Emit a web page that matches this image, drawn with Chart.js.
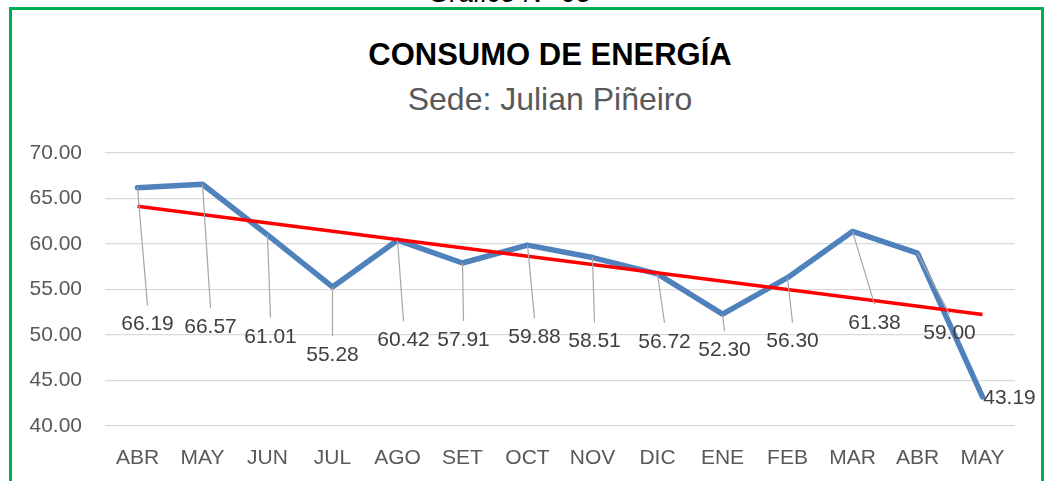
<!DOCTYPE html>
<html>
<head>
<meta charset="utf-8">
<title>Consumo de energía</title>
<script src="https://cdn.jsdelivr.net/npm/chart.js@4.4.0/dist/chart.umd.min.js"></script>
<style>
    html, body { margin: 0; padding: 0; background: #fff; }
    #wrap { position: relative; width: 1045px; height: 481px; overflow: hidden; font-family: "Liberation Sans", Arial, sans-serif; }
    #frame { position: absolute; left: 9px; top: 7px; width: 1035px; height: 540px; border: 3px solid #00B050; box-sizing: border-box; }
    .txt { position: absolute; left: 0; width: 1100px; text-align: center; white-space: nowrap; }
    #fig { top: -20px; left: -40px; font-size: 27px; line-height: 27px; font-style: italic; color: #000; }
    #title { top: 39px; font-size: 31px; line-height: 31px; font-weight: bold; color: #000; }
    #subtitle { top: 83px; font-size: 32px; line-height: 32px; color: #595959; }
    canvas { position: absolute; left: 0; top: 0; }
</style>
</head>
<body>
<div id="wrap">
    <div id="frame"></div>
    <div class="txt" id="fig">Gráfico N° 05</div>
    <div class="txt" id="title">CONSUMO DE ENERGÍA</div>
    <div class="txt" id="subtitle">Sede: Julian Piñeiro</div>
    <canvas id="chart" width="1045" height="481"></canvas>
</div>
<script>
    var meses = ['ABR', 'MAY', 'JUN', 'JUL', 'AGO', 'SET', 'OCT', 'NOV', 'DIC', 'ENE', 'FEB', 'MAR', 'ABR', 'MAY'];
    var consumo = [66.19, 66.57, 61.01, 55.28, 60.42, 57.91, 59.88, 58.51, 56.72, 52.30, 56.30, 61.38, 59.00, 43.19];
    // linear trend, only its two ends
    var tendencia = [64.15, null, null, null, null, null, null, null, null, null, null, null, null, 52.25];
    var yMin = 40, yMax = 70, yStep = 5;

    // where each value label sits relative to its point (px)
    var labelOffsets = [
        [10, 137], [8, 143], [3, 102], [0, 68], [6, 100], [1, 77], [7, 92],
        [2, 84], [7, 68], [2, 36], [5, 64], [22, 92], [32, 80], [27, 1]
    ];

    var valueLabels = {
        id: 'valueLabels',
        afterDatasetsDraw: function (chart) {
            var ctx = chart.ctx;
            var meta = chart.getDatasetMeta(1);
            ctx.save();
            meta.data.forEach(function (pt, i) {
                var off = labelOffsets[i];
                var cx = pt.x + off[0], cy = pt.y + off[1];
                if (off[1] > 25) {
                    ctx.strokeStyle = '#A6A6A6';
                    ctx.lineWidth = 1.2;
                    ctx.beginPath();
                    ctx.moveTo(pt.x, pt.y);
                    ctx.lineTo(cx, cy - 19);
                    ctx.stroke();
                }
                ctx.fillStyle = '#404040';
                ctx.font = '21px "Liberation Sans", Arial, sans-serif';
                ctx.textAlign = 'center';
                ctx.textBaseline = 'middle';
                ctx.fillText(consumo[i].toFixed(2), cx, cy);
            });
            ctx.restore();
        }
    };

    new Chart(document.getElementById('chart'), {
        type: 'line',
        data: {
            labels: meses,
            datasets: [
                {
                    label: 'Lineal',
                    data: tendencia,
                    spanGaps: true,
                    borderColor: '#FF0000',
                    borderWidth: 3.5,
                    pointRadius: 0,
                    fill: false
                },
                {
                    label: 'Consumo',
                    data: consumo,
                    borderColor: '#4F81BD',
                    borderWidth: 5.5,
                    borderJoinStyle: 'round',
                    borderCapStyle: 'round',
                    pointRadius: 0,
                    tension: 0,
                    fill: false
                }
            ]
        },
        options: {
            responsive: false,
            animation: false,
            devicePixelRatio: 1,
            layout: { padding: { top: 153, right: 30, bottom: 0, left: 0 } },
            plugins: {
                legend: { display: false },
                tooltip: { enabled: false }
            },
            scales: {
                x: {
                    offset: true,
                    grid: { display: false },
                    border: { display: false },
                    ticks: {
                        color: '#595959',
                        font: { family: '"Liberation Sans", Arial, sans-serif', size: 21 },
                        padding: 12,
                        maxRotation: 0,
                        autoSkip: false
                    },
                    afterFit: function (s) { s.height = 55; }
                },
                y: {
                    min: yMin,
                    max: yMax,
                    grid: { color: '#D9D9D9', lineWidth: 1.3, drawTicks: false },
                    border: { display: false },
                    ticks: {
                        stepSize: yStep,
                        color: '#595959',
                        font: { family: '"Liberation Sans", Arial, sans-serif', size: 21 },
                        padding: 23,
                        callback: function (v) { return v.toFixed(2); }
                    },
                    afterFit: function (s) { s.width = 105; }
                }
            }
        },
        plugins: [valueLabels]
    });
</script>
</body>
</html>
